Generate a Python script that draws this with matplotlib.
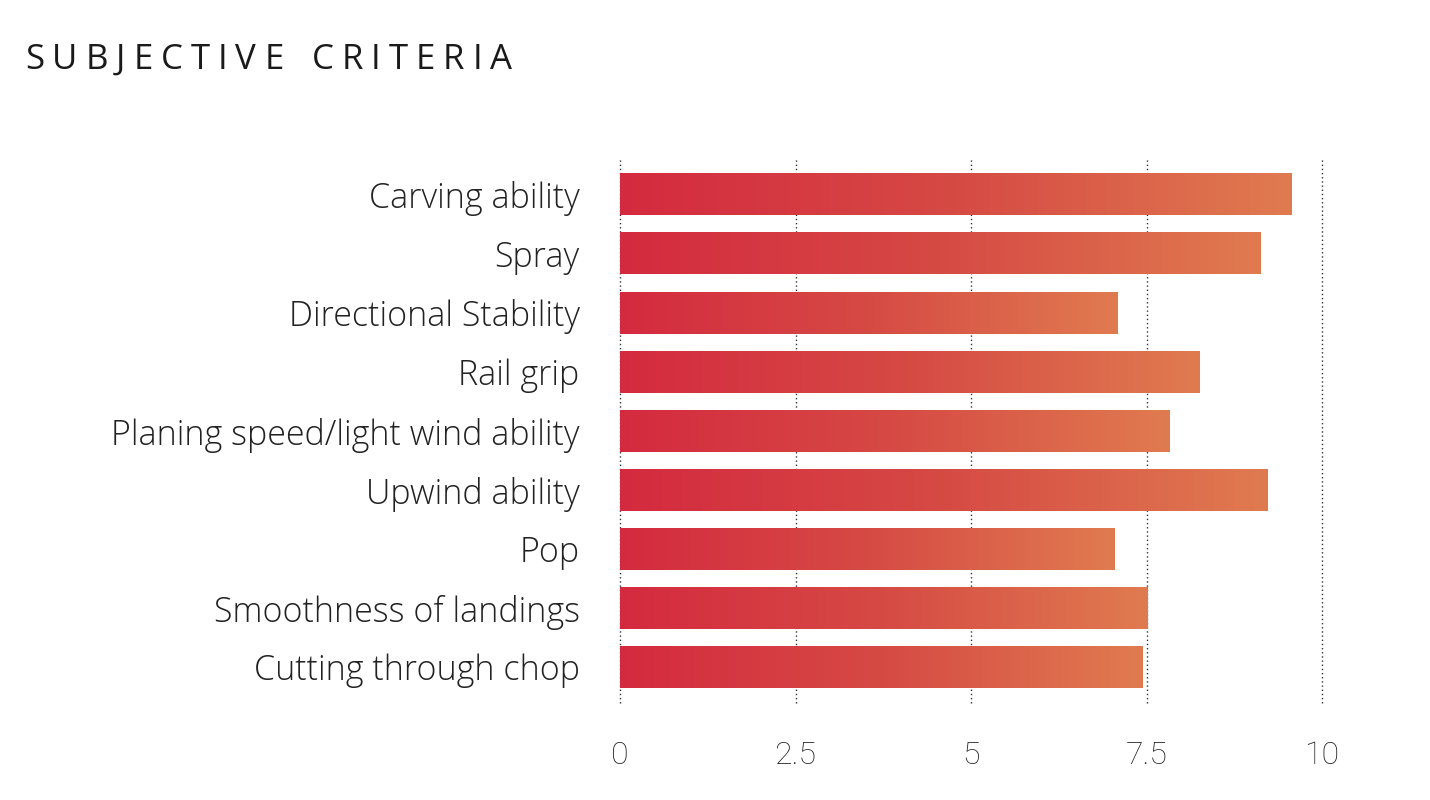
import numpy as np
import matplotlib.pyplot as plt
from matplotlib.colors import LinearSegmentedColormap

# Scores
criteria = ["Carving ability", "Spray", "Directional Stability", "Rail grip",
            "Planing speed/light wind ability", "Upwind ability", "Pop",
            "Smoothness of landings", "Cutting through chop"]
scores = [9.56, 9.13, 7.08, 8.25, 7.83, 9.23, 7.05, 7.52, 7.45]
ticks = [0, 2.5, 5, 7.5, 10]
tick_labels = ["0", "2.5", "5", "7.5", "10"]
title = "SUBJECTIVE CRITERIA"

cmap = LinearSegmentedColormap.from_list("redorange", ["#d42a3f", "#d64a44", "#e07b50"])
grad = np.linspace(0, 1, 256).reshape(1, -1)

fig = plt.figure(figsize=(14.3, 8), dpi=100)
ax = fig.add_axes([620 / 1430, 97 / 800, 702 / 1430, 545 / 800])

bar_h = 0.695
for i, v in enumerate(scores):
    ax.imshow(grad, cmap=cmap, aspect="auto", interpolation="bicubic",
              extent=[0, v, i + bar_h / 2, i - bar_h / 2], zorder=2)

for t in ticks:
    ax.axvline(t, color="#333333", linestyle=(0, (1, 2)), linewidth=1,
               zorder=1, clip_on=False)

ax.set_xlim(0, 10)
ax.set_ylim(len(scores) - 1 + 0.61, -0.627)
ax.set_xticks(ticks)
ax.set_xticklabels(tick_labels)
ax.set_yticks(range(len(criteria)))
ax.set_yticklabels(criteria)
ax.tick_params(axis="both", length=0, colors="#222222")
ax.tick_params(axis="y", pad=29)
ax.tick_params(axis="x", pad=27)
for lab in ax.get_yticklabels():
    lab.set_fontfamily("Open Sans")
    lab.set_fontweight("light")
    lab.set_fontsize(24.5)
for lab in ax.get_xticklabels():
    lab.set_fontfamily("Roboto")
    lab.set_fontweight("light")
    lab.set_fontsize(23)
for s in ax.spines.values():
    s.set_visible(False)

# letter-spaced title: measure glyphs, then spread them over the reference width
renderer = fig.canvas.get_renderer()
glyphs = []
for ch in title:
    t = fig.text(0, 1 - 60 / 800, ch, fontsize=25, family="Open Sans",
                 color="#1a1a1a", va="center", ha="left")
    w = t.get_window_extent(renderer).width if ch != " " else 0
    glyphs.append((t, w, ch))
space_w = 12
total_w = 487
letters_w = sum(w for _, w, _ in glyphs)
track = (total_w - letters_w - space_w) / (len(title) - 1)
x = 25
for t, w, ch in glyphs:
    t.set_x(x / 1430)
    x += w + track + (space_w if ch == " " else 0)

fig.savefig("out.png", dpi=100, facecolor="white")
